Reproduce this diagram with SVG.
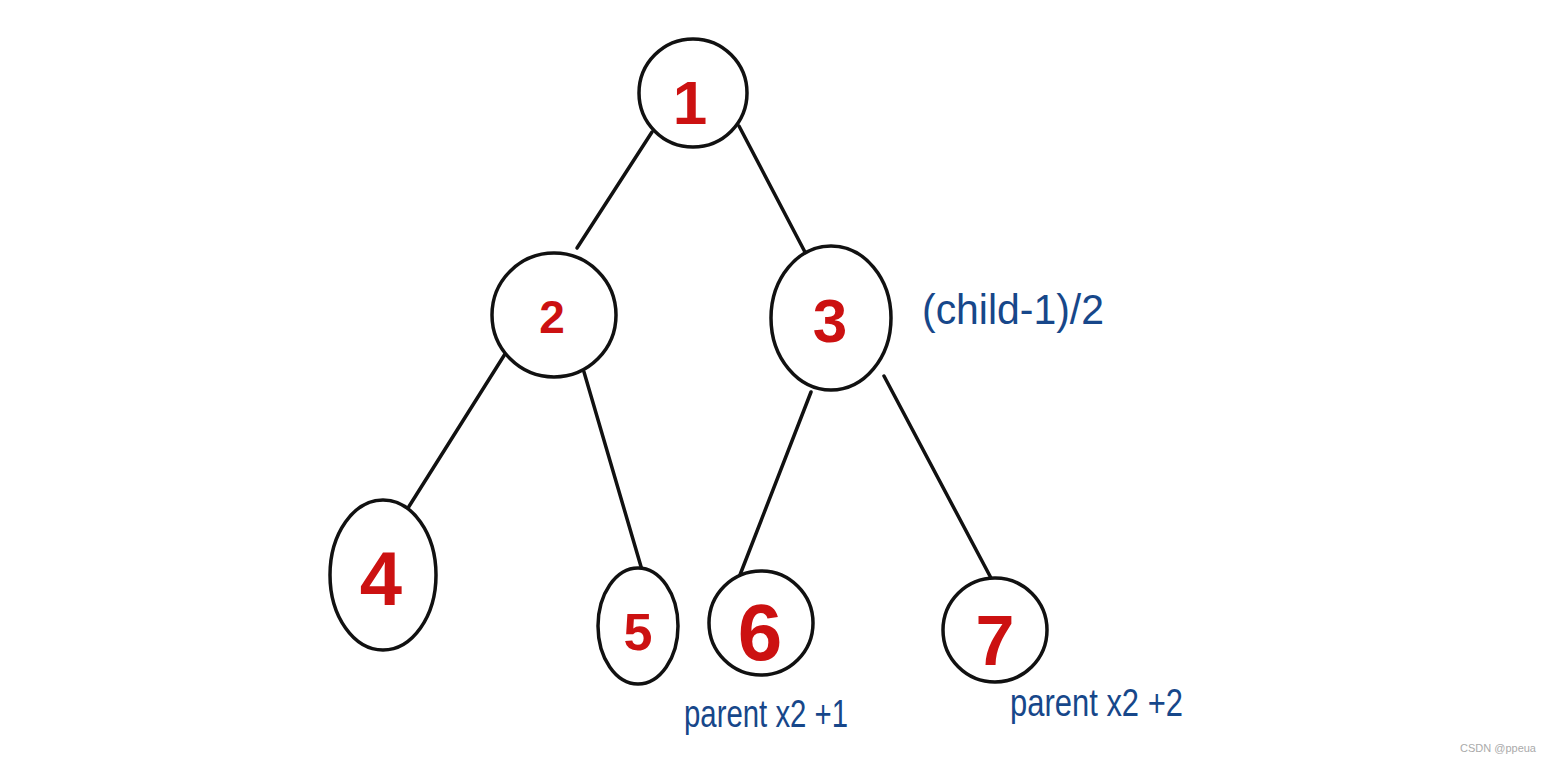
<svg xmlns="http://www.w3.org/2000/svg" width="1546" height="763" viewBox="0 0 1546 763">
<style>
.n{fill:#fff;stroke:#111;stroke-width:3.5}
.d{fill:#cc1111;font-family:"Liberation Sans",Arial,sans-serif;font-weight:bold;text-anchor:middle}
.f{fill:#17478a;font-family:"Liberation Sans",Arial,sans-serif}
.e{stroke:#111;stroke-width:3.5;stroke-linecap:round;fill:none}
</style>
<rect width="1546" height="763" fill="#fff"/>
<g id="connectors">
<line class="e" x1="652" y1="132" x2="577" y2="248"/>
<line class="e" x1="739" y1="126" x2="806" y2="254"/>
<line class="e" x1="505" y1="354" x2="408" y2="508"/>
<line class="e" x1="584" y1="372" x2="642" y2="570"/>
<line class="e" x1="811" y1="392" x2="738" y2="580"/>
<line class="e" x1="884" y1="376" x2="991" y2="578"/>
</g>
<g id="node1"><ellipse class="n" cx="693" cy="93" rx="54" ry="54"/><text class="d" x="690" y="124" font-size="62">1</text></g>
<g id="node2"><ellipse class="n" cx="554" cy="315" rx="62" ry="62"/><text class="d" x="552" y="333" font-size="46">2</text></g>
<g id="node3"><ellipse class="n" cx="831" cy="318" rx="60" ry="72"/><text class="d" x="830" y="342" font-size="62">3</text></g>
<g id="node4"><ellipse class="n" cx="383" cy="575" rx="53" ry="75"/><text class="d" x="381" y="605" font-size="76">4</text></g>
<g id="node5"><ellipse class="n" cx="638" cy="626" rx="40" ry="58"/><text class="d" x="638" y="650" font-size="52">5</text></g>
<g id="node6"><ellipse class="n" cx="761" cy="623" rx="52" ry="52"/><text class="d" x="760" y="660" font-size="80">6</text></g>
<g id="node7"><ellipse class="n" cx="995" cy="630" rx="52" ry="52"/><text class="d" x="995" y="665" font-size="70">7</text></g>
<g id="labels">
<text class="f" x="922" y="324" font-size="42" textLength="182" lengthAdjust="spacingAndGlyphs">(child-1)/2</text>
<text class="f" x="684" y="727" font-size="38" textLength="164" lengthAdjust="spacingAndGlyphs">parent x2 +1</text>
<text class="f" x="1010" y="716" font-size="38" textLength="173" lengthAdjust="spacingAndGlyphs">parent x2 +2</text>
<text x="1460" y="752" font-size="11" fill="#aaa" font-family="'Liberation Sans',Arial,sans-serif">CSDN @ppeua</text>
</g>
</svg>
